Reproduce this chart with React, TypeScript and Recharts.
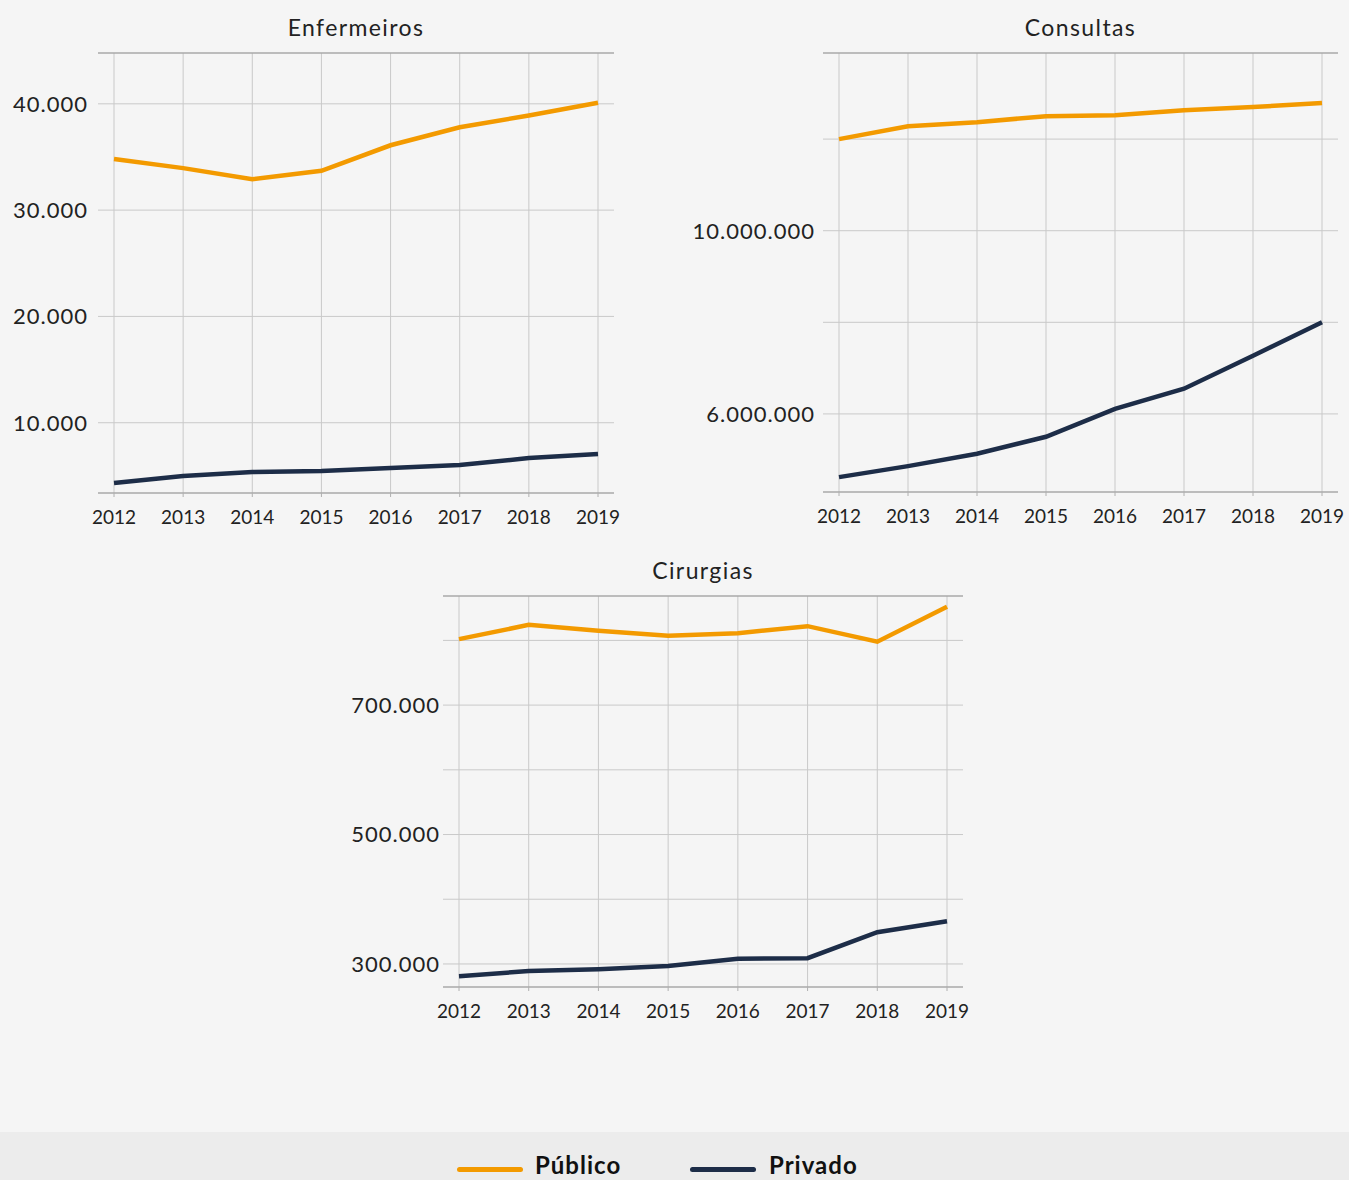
import { LineChart, Line, XAxis, YAxis, CartesianGrid, ReferenceLine } from "recharts";

const years = ["2012", "2013", "2014", "2015", "2016", "2017", "2018", "2019"];

const enfermeirosPublico = [34800, 33950, 32900, 33700, 36100, 37800, 38900, 40100];
const enfermeirosPrivado = [4330, 4990, 5370, 5460, 5740, 6020, 6680, 7060];

const consultasPublico = [12000000, 12280000, 12370000, 12500000, 12520000, 12630000, 12700000, 12790000];
const consultasPrivado = [4620000, 4860000, 5130000, 5500000, 6110000, 6550000, 7270000, 8000000];

const cirurgiasPublico = [802000, 824000, 815000, 807000, 811000, 822000, 798000, 852000];
const cirurgiasPrivado = [281000, 289000, 292000, 297000, 308000, 309000, 349000, 366000];

const enfermeirosTicks = [10000, 20000, 30000, 40000];
const enfermeirosLabels = [10000, 20000, 30000, 40000];
const consultasTicks = [6000000, 8000000, 10000000, 12000000];
const consultasLabels = [6000000, 10000000];
const cirurgiasTicks = [300000, 400000, 500000, 600000, 700000, 800000];
const cirurgiasLabels = [300000, 500000, 700000];

const ORANGE = "#f39a00";
const NAVY = "#1d2d48";
const FONT = "Lato, 'Noto Sans', sans-serif";

function fmt(n: number) {
  return String(n).replace(/\B(?=(\d{3})+(?!\d))/g, ".");
}

interface PanelProps {
  title: string;
  publico: number[];
  privado: number[];
  ticks: number[];
  labels: number[];
  domain: [number, number];
  left: number;
  top: number;
  yWidth: number;
  yGap: number;
  plotWidth: number;
  plotHeight: number;
}

function Panel({ title, publico, privado, ticks, labels, domain, left, top, yWidth, yGap, plotWidth, plotHeight }: PanelProps) {
  const data = years.map((year, i) => ({ year, publico: publico[i], privado: privado[i] }));
  const marginTop = 10;
  const xHeight = 40;
  const width = yWidth + plotWidth + 12;
  const height = marginTop + plotHeight + xHeight;
  return (
    <>
      <div
        style={{
          position: "absolute",
          left: left + yWidth,
          width: plotWidth,
          top: top + marginTop - 41,
          height: 30,
          lineHeight: "30px",
          textAlign: "center",
          fontSize: 23,
          letterSpacing: 1.4,
          color: "#222",
        }}
      >
        {title}
      </div>
      <div style={{ position: "absolute", left, top }}>
        <LineChart width={width} height={height} data={data} margin={{ top: marginTop, right: 12, left: 0, bottom: 0 }}>
          <CartesianGrid stroke="#c9c9c9" syncWithTicks />
          <XAxis
            dataKey="year"
            padding={{ left: 16, right: 16 }}
            height={xHeight}
            axisLine={{ stroke: "#a8a8a8", strokeWidth: 1.5 }}
            tickLine={{ stroke: "#b0b0b0" }}
            tickSize={4}
            tickMargin={14}
            tick={{ fontSize: 19, fill: "#222", fontFamily: FONT }}
            interval={0}
          />
          <YAxis
            type="number"
            domain={domain}
            ticks={ticks}
            width={yWidth}
            axisLine={false}
            tickLine={false}
            tickSize={0}
            tickMargin={yGap}
            tick={{ fontSize: 22, fill: "#222", fontFamily: FONT, letterSpacing: 1 }}
            tickFormatter={(v: number) => (labels.includes(v) ? fmt(v) : "")}
          />
          <ReferenceLine y={domain[1]} stroke="#a8a8a8" strokeWidth={1.5} />
          <Line dataKey="publico" stroke={ORANGE} strokeWidth={4.5} dot={false} isAnimationActive={false} />
          <Line dataKey="privado" stroke={NAVY} strokeWidth={4.5} dot={false} isAnimationActive={false} />
        </LineChart>
      </div>
    </>
  );
}

export default function App() {
  return (
    <div
      style={{
        position: "absolute",
        left: 0,
        top: 0,
        width: 1349,
        height: 1180,
        overflow: "hidden",
        background: "#f5f5f5",
        fontFamily: FONT,
      }}
    >
      <Panel
        title="Enfermeiros"
        publico={enfermeirosPublico}
        privado={enfermeirosPrivado}
        ticks={enfermeirosTicks}
        labels={enfermeirosLabels}
        domain={[3390, 44780]}
        left={0}
        top={43}
        yWidth={98}
        yGap={10}
        plotWidth={516}
        plotHeight={440}
      />
      <Panel
        title="Consultas"
        publico={consultasPublico}
        privado={consultasPrivado}
        ticks={consultasTicks}
        labels={consultasLabels}
        domain={[4295000, 13880000]}
        left={680}
        top={43}
        yWidth={143}
        yGap={8}
        plotWidth={515}
        plotHeight={439}
      />
      <Panel
        title="Cirurgias"
        publico={cirurgiasPublico}
        privado={cirurgiasPrivado}
        ticks={cirurgiasTicks}
        labels={cirurgiasLabels}
        domain={[264400, 868600]}
        left={330}
        top={586}
        yWidth={113}
        yGap={3}
        plotWidth={520}
        plotHeight={391}
      />
      <div style={{ position: "absolute", left: 0, top: 1132, width: 1349, height: 48, background: "#ececec" }} />
      <div style={{ position: "absolute", left: 457, top: 1167, width: 66, height: 5, borderRadius: 3, background: ORANGE }} />
      <div
        style={{ position: "absolute", left: 535, top: 1152, fontSize: 24, fontWeight: 700, letterSpacing: 1, lineHeight: "26px", color: "#111" }}
      >
        Público
      </div>
      <div style={{ position: "absolute", left: 690, top: 1167, width: 66, height: 5, borderRadius: 3, background: NAVY }} />
      <div
        style={{ position: "absolute", left: 769, top: 1152, fontSize: 24, fontWeight: 700, letterSpacing: 1, lineHeight: "26px", color: "#111" }}
      >
        Privado
      </div>
    </div>
  );
}
